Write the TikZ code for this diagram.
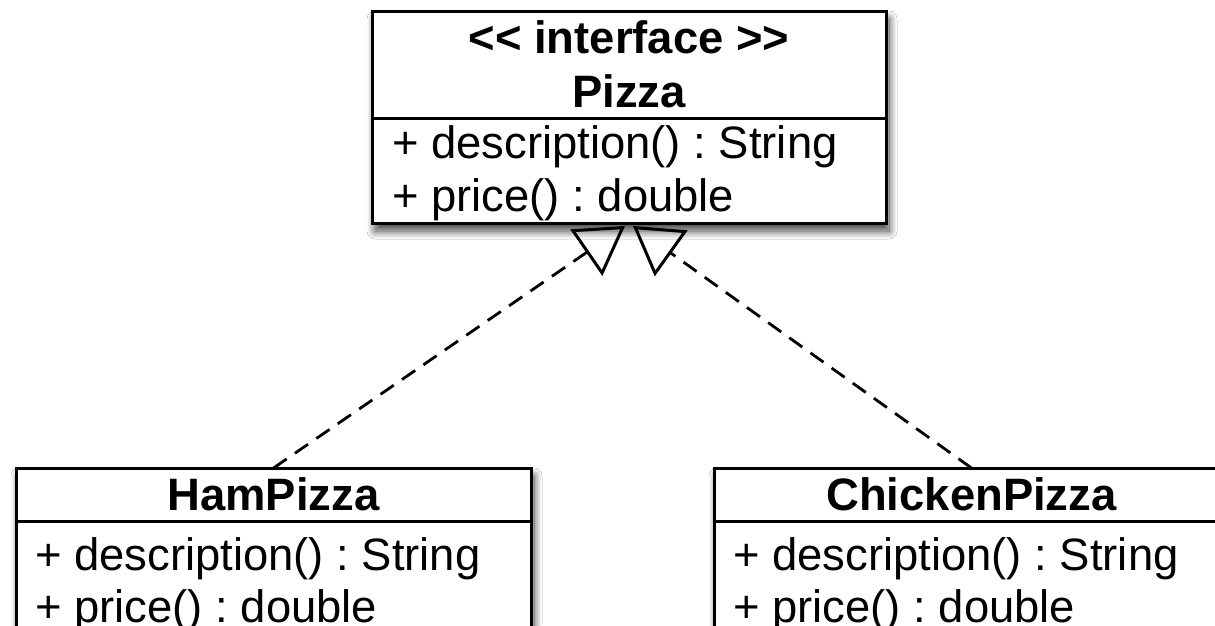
\documentclass[tikz,border=0pt]{standalone}
\usepackage{fontspec}
\setmainfont{Liberation Sans}[Ligatures=TeXOff]
\usetikzlibrary{arrows.meta,shadows.blur}
\frenchspacing

\tikzset{
  classbox/.style={draw=black, fill=white, line width=3pt, inner sep=0pt, outer sep=0pt,
    blur shadow={shadow xshift=3pt, shadow yshift=-8pt, shadow blur radius=8pt,
                 shadow blur steps=16, shadow opacity=75}},
  divider/.style={draw=black, line width=3pt},
  cname/.style={anchor=base, inner sep=0pt, font=\fontsize{45.4}{52}\selectfont\bfseries},
  member/.style={anchor=base west, inner sep=0pt, font=\fontsize{45.4}{52}\selectfont},
  realizes/.style={draw=black, line width=2.8pt, dash pattern=on 16pt off 10pt,
    -{Triangle[open, length=47pt, width=56pt, line width=3pt]}}
}

\begin{document}
\begin{tikzpicture}[x=1pt, y=-1pt]
  \useasboundingbox (0,0) rectangle (1215,625);
  \fill[white] (0,0) rectangle (1215,625);
  \clip (0,0) rectangle (1215,625);

  % interface Pizza
  \node[classbox, minimum width=514pt, minimum height=212pt] (pizza) at (629,117) {};
  \draw[divider] (372,118) -- (886,118);
  \node[cname] (pizzaSt) at (629,53) {<< interface >>};
  \node[cname] (pizzaName) at (629,107) {Pizza};
  \node[member] (pizzaM1) at (392,158) {+ description() : String};
  \node[member] (pizzaM2) at (392,211) {+ price() : double};

  % class HamPizza
  \node[classbox, minimum width=515pt, minimum height=200pt] (ham) at (273.5,568) {};
  \draw[divider] (16,521) -- (531,521);
  \node[cname] (hamName) at (273.5,510) {HamPizza};
  \node[member] (hamM1) at (35,570) {+ description() : String};
  \node[member] (hamM2) at (35,622) {+ price() : double};

  % class ChickenPizza
  \node[classbox, minimum width=515pt, minimum height=200pt] (chicken) at (971.5,568) {};
  \draw[divider] (714,521) -- (1229,521);
  \node[cname] (chickenName) at (971.5,510) {ChickenPizza};
  \node[member] (chickenM1) at (733,570) {+ description() : String};
  \node[member] (chickenM2) at (733,622) {+ price() : double};

  % realization arrows
  \coordinate (tipL) at (625,226);
  \coordinate (tipR) at (633,226);
  \draw[realizes] (ham.north) -- (tipL);
  \draw[realizes] (chicken.north) -- (tipR);
\end{tikzpicture}
\end{document}
